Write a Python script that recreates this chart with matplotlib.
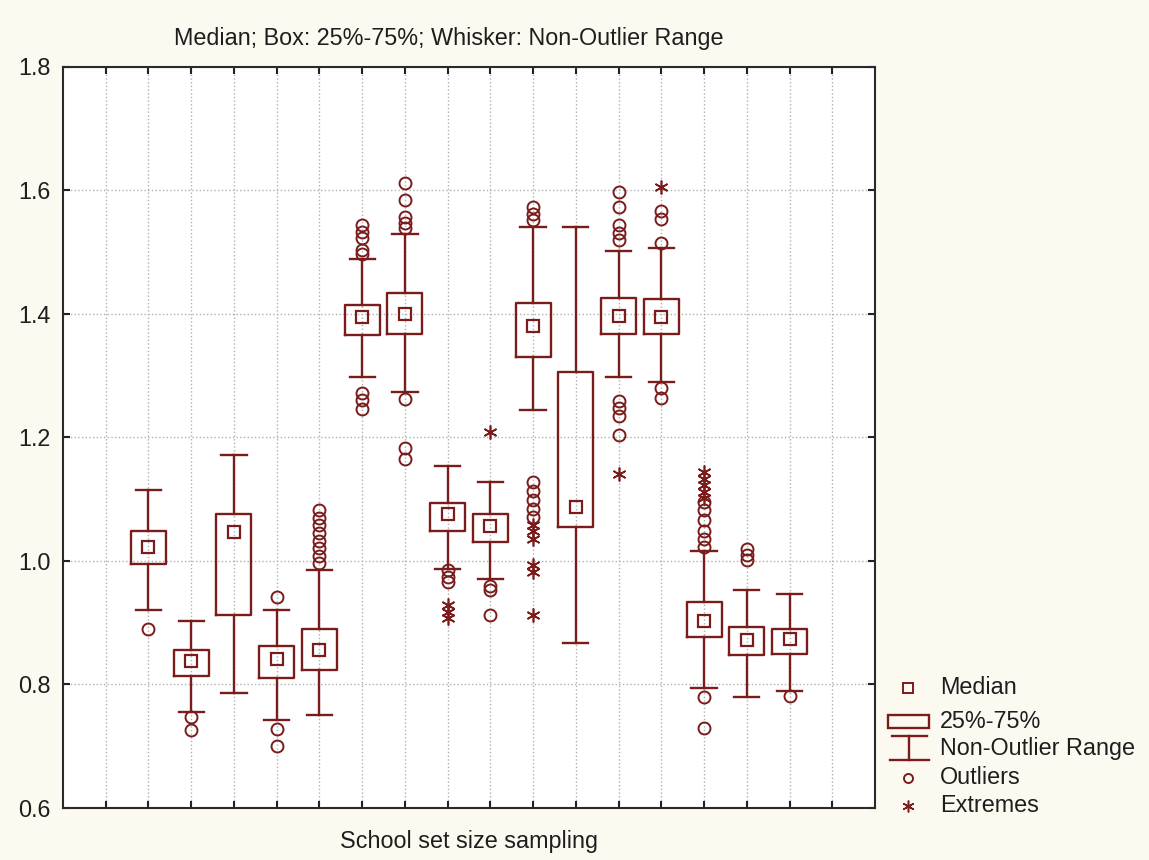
import matplotlib
matplotlib.use("Agg")
import matplotlib.pyplot as plt
from matplotlib.patches import Rectangle
from matplotlib.lines import Line2D

plt.rcParams['font.family'] = ['Liberation Sans', 'DejaVu Sans']

# ---------------- data ----------------
positions = [2, 3, 4, 5, 6, 7, 8, 9, 10, 11, 12, 13, 14, 15, 16, 17]
medians = [1.022, 0.838, 1.046, 0.841, 0.855, 1.395, 1.399, 1.075, 1.057, 1.380, 1.087, 1.396, 1.394, 0.903, 0.872, 0.873]
q1 = [0.995, 0.814, 0.912, 0.811, 0.823, 1.365, 1.367, 1.048, 1.030, 1.330, 1.055, 1.367, 1.367, 0.877, 0.847, 0.850]
q3 = [1.049, 0.855, 1.075, 0.862, 0.890, 1.414, 1.434, 1.093, 1.075, 1.418, 1.306, 1.426, 1.423, 0.933, 0.893, 0.890]
whisker_low = [0.920, 0.756, 0.786, 0.742, 0.750, 1.297, 1.273, 0.987, 0.970, 1.244, 0.867, 1.297, 1.289, 0.794, 0.779, 0.789]
whisker_high = [1.115, 0.903, 1.171, 0.920, 0.985, 1.489, 1.529, 1.154, 1.128, 1.540, 1.541, 1.501, 1.507, 1.016, 0.952, 0.946]
outliers = [
    [0.890],
    [0.747, 0.726],
    [],
    [0.941, 0.728, 0.700],
    [1.082, 1.070, 1.058, 1.045, 1.032, 1.020, 1.008, 0.996],
    [1.543, 1.532, 1.522, 1.503, 1.496, 1.271, 1.260, 1.246],
    [1.611, 1.584, 1.557, 1.546, 1.538, 1.262, 1.183, 1.165],
    [0.985, 0.974, 0.965],
    [0.960, 0.952, 0.912],
    [1.573, 1.562, 1.551, 1.128, 1.113, 1.098, 1.084, 1.071],
    [],
    [1.597, 1.573, 1.543, 1.530, 1.519, 1.259, 1.248, 1.234, 1.203],
    [1.566, 1.554, 1.515, 1.280, 1.263],
    [1.095, 1.082, 1.066, 1.049, 1.036, 1.022, 0.779, 0.729],
    [1.019, 1.010, 1.001],
    [0.782],
]
extremes = [
    [], [], [], [], [], [], [],
    [0.928, 0.918, 0.908],
    [1.209],
    [1.058, 1.049, 1.036, 0.993, 0.982, 0.912],
    [],
    [1.141],
    [1.605],
    [1.144, 1.133, 1.122, 1.111, 1.101],
    [], [],
]
yticks = [0.6, 0.8, 1.0, 1.2, 1.4, 1.6, 1.8]
ytick_labels = ['0.6', '0.8', '1.0', '1.2', '1.4', '1.6', '1.8']
xticks = list(range(1, 19))
title = "Median; Box: 25%-75%; Whisker: Non-Outlier Range"
xlabel = "School set size sampling"
legend_labels = ["Median", "25%-75%", "Non-Outlier Range", "Outliers", "Extremes"]

# ---------------- style ----------------
W, H = 1149, 860
C = '#7a1c1c'
BG = '#fcf9f0'
TXT = '#1e1e1e'
FS = 16.8

fig = plt.figure(figsize=(W / 100, H / 100), dpi=100, facecolor=BG)
ax = fig.add_axes([63 / W, 1 - 808 / H, (875 - 63) / W, (808 - 66.5) / H])
ax.set_facecolor('white')

stats = []
for i in range(len(positions)):
    stats.append(dict(med=medians[i], q1=q1[i], q3=q3[i],
                      whislo=whisker_low[i], whishi=whisker_high[i], fliers=[]))

ax.bxp(stats, positions=positions, widths=0.82, capwidths=0.59,
       showfliers=False, manage_ticks=False,
       boxprops=dict(color=C, linewidth=1.7),
       whiskerprops=dict(color=C, linewidth=1.7),
       capprops=dict(color=C, linewidth=1.7),
       medianprops=dict(linewidth=0),
       zorder=3)
ax.plot(positions, medians, linestyle='none', marker='s', markersize=8.5,
        markerfacecolor='none', markeredgecolor=C, markeredgewidth=1.6, zorder=4)

for p, vals in zip(positions, outliers):
    if vals:
        ax.plot([p] * len(vals), vals, linestyle='none', marker='o', markersize=8.6,
                markerfacecolor='none', markeredgecolor=C, markeredgewidth=1.4, zorder=4)
for p, vals in zip(positions, extremes):
    if vals:
        ax.plot([p] * len(vals), vals, linestyle='none', marker=(6, 2, 0), markersize=10,
                markeredgecolor=C, markeredgewidth=1.2, zorder=4)

ax.set_xlim(0, 19)
ax.set_ylim(0.6, 1.8)
ax.set_xticks(xticks)
ax.set_xticklabels([])
ax.set_yticks(yticks)
ax.set_yticklabels(ytick_labels)
ax.tick_params(direction='in', length=5, width=1.5, color='#222222',
               top=True, right=True, labelsize=FS, labelcolor=TXT, pad=9)
ax.grid(True, color='#b0b0b0', linestyle=':', linewidth=1.0, zorder=0)
ax.set_axisbelow(True)
for s in ax.spines.values():
    s.set_color('#2a2a2a')
    s.set_linewidth(1.5)

ax.set_xlabel(xlabel, fontsize=FS, color=TXT, labelpad=7)
fig.text(449 / W, 1 - 38 / H, title, ha='center', va='center', fontsize=FS, color=TXT)

# ---------------- legend (drawn manually) ----------------
lax = fig.add_axes([0, 0, 1, 1], facecolor='none')
lax.set_xlim(0, W)
lax.set_ylim(H, 0)
lax.axis('off')
ly = [688, 721, 748, 778, 806]
sx = 908
lax.plot([sx], [ly[0]], marker='s', markersize=7, markerfacecolor='none',
         markeredgecolor=C, markeredgewidth=1.4)
lax.add_patch(Rectangle((888, ly[1] - 6.5), 41, 13, fill=False, edgecolor=C, linewidth=1.7))
lax.add_line(Line2D([892, 927], [736, 736], color=C, linewidth=1.7))
lax.add_line(Line2D([sx + 1, sx + 1], [736, 760], color=C, linewidth=1.7))
lax.add_line(Line2D([890, 929], [760, 760], color=C, linewidth=1.7))
lax.plot([sx], [ly[3]], marker='o', markersize=6.5, markerfacecolor='none',
         markeredgecolor=C, markeredgewidth=1.4)
lax.plot([sx], [ly[4]], marker=(6, 2, 0), markersize=8.5,
         markeredgecolor=C, markeredgewidth=1.1)
for y, lab in zip(ly, legend_labels):
    lax.text(940, y, lab, ha='left', va='center', fontsize=FS, color=TXT)

fig.savefig('out.png', dpi=100, facecolor=BG)
